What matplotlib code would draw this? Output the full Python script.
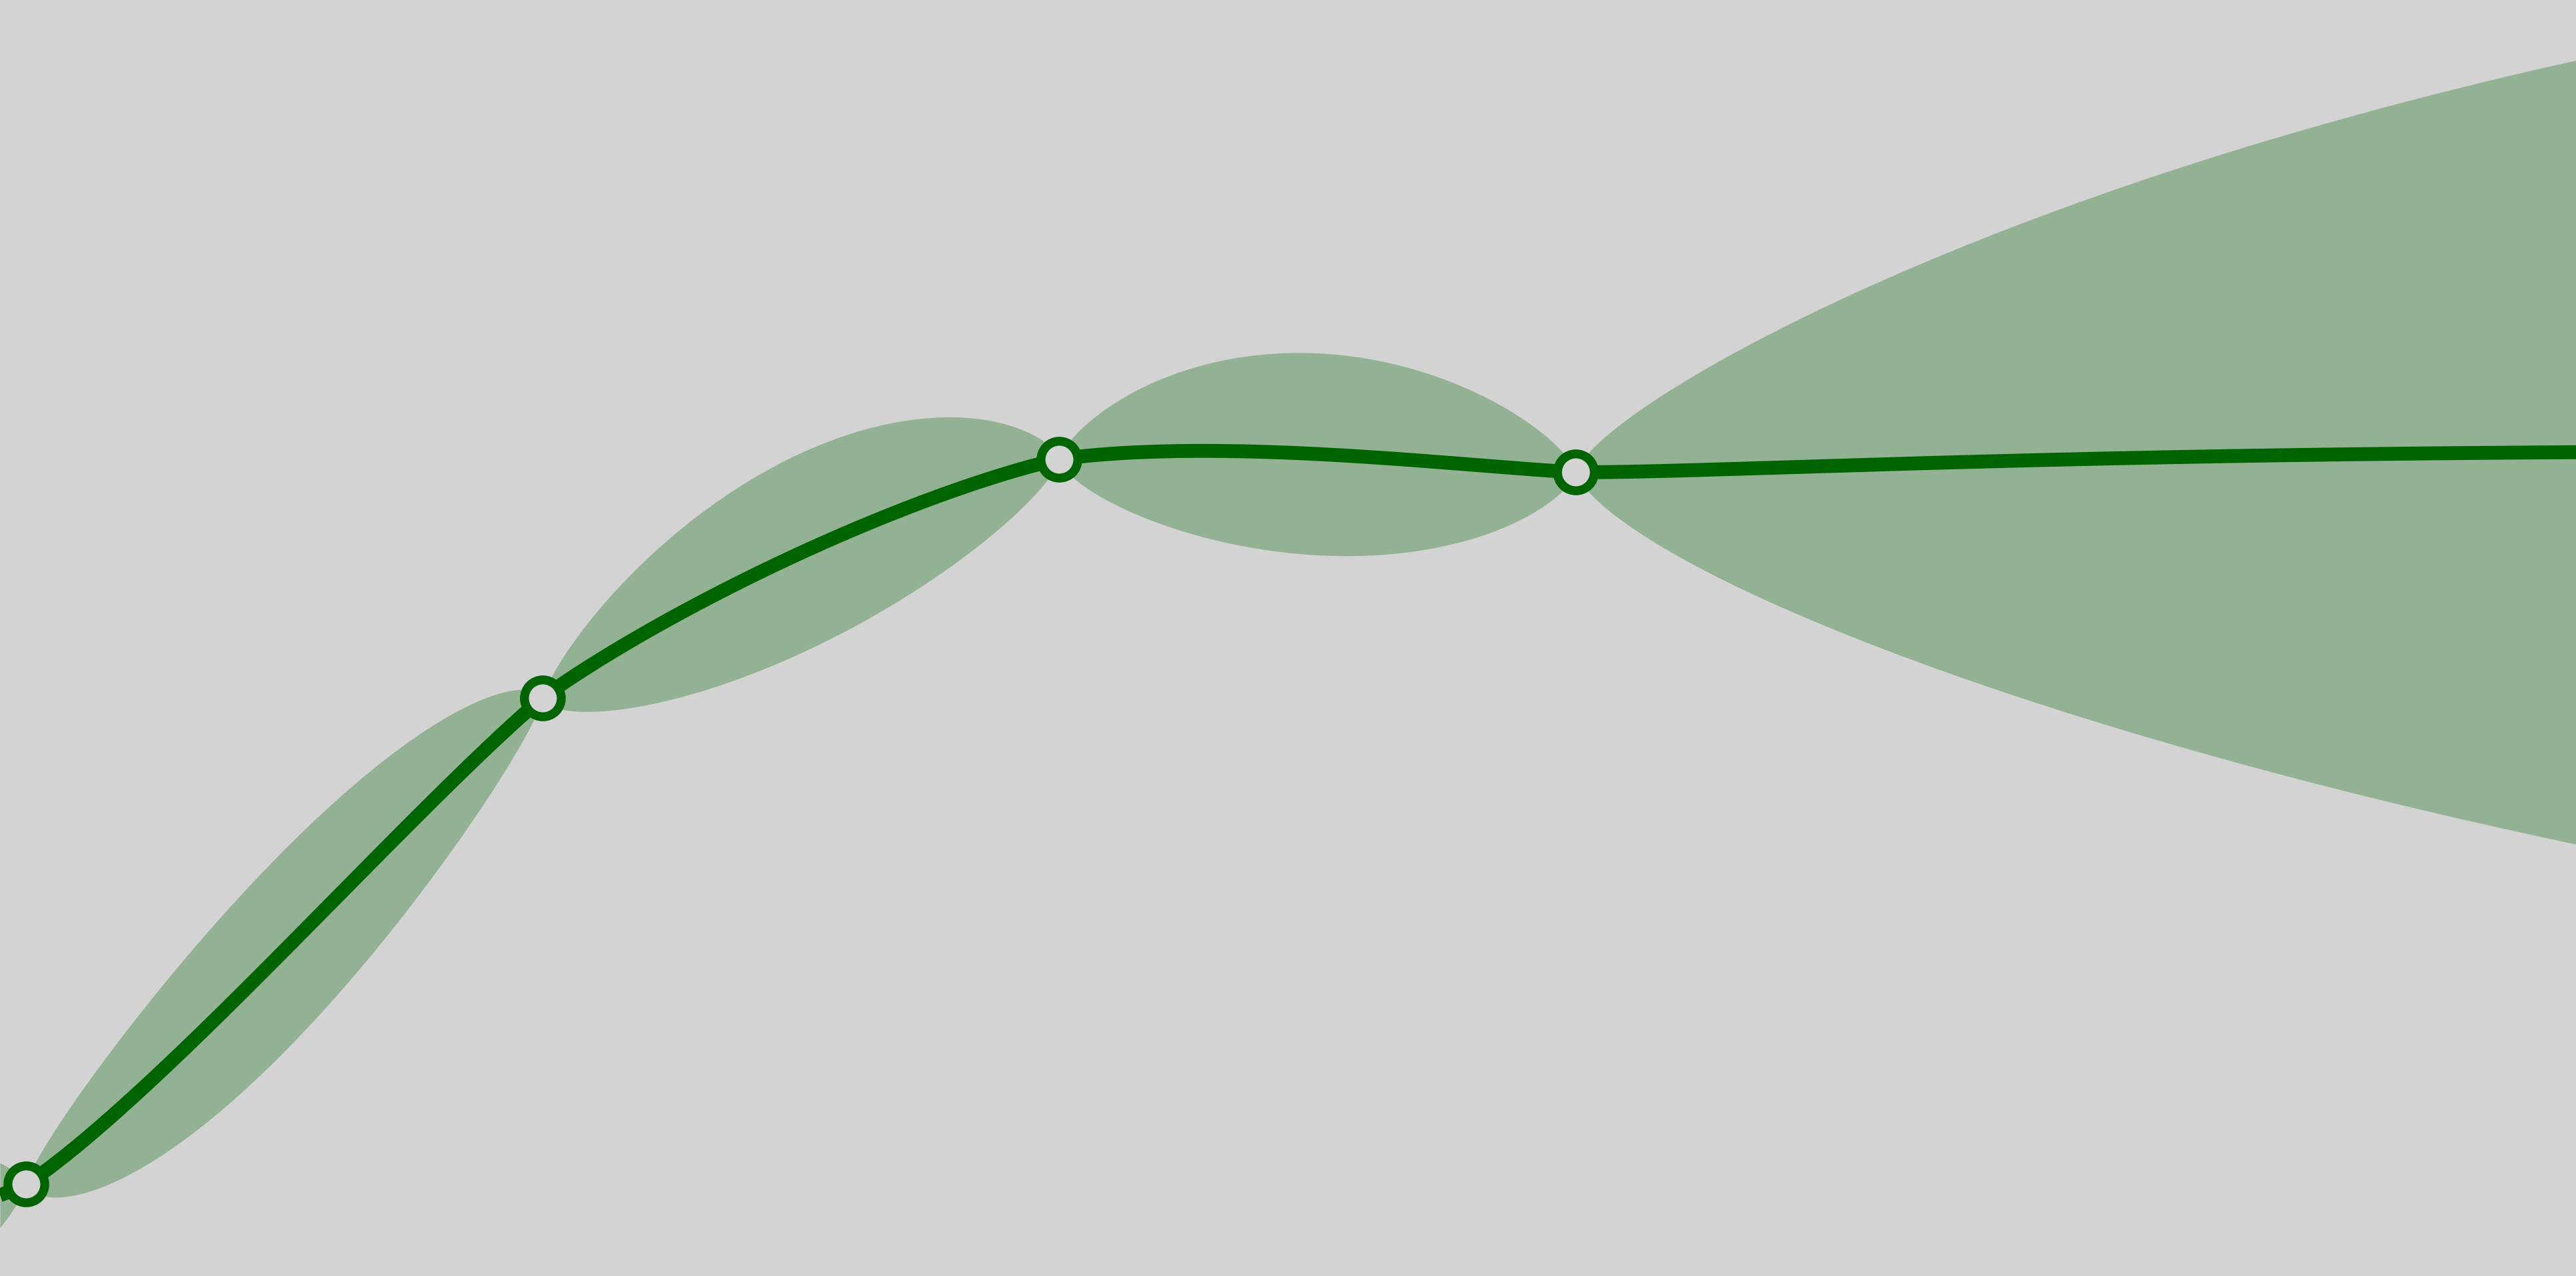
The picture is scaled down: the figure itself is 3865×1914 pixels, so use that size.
import numpy as np
import matplotlib
matplotlib.use("Agg")
import matplotlib.pyplot as plt

# observed samples
x_obs = [0.0, 1.0, 2.0, 3.0]
y_obs = [0.72, 4.53, 6.40, 6.30]

# gaussian process settings (powered exponential kernel)
prior_mean = 6.28
prior_std = 2.356
length_scale = 4.37
power = 1.45
n_std = 2

x_min, x_max = -0.0503, 4.938
y_min, y_max = 0.0, 10.0


def kernel(a, b):
    r = np.abs(np.asarray(a)[:, None] - np.asarray(b)[None, :])
    return prior_std ** 2 * np.exp(-(r / length_scale) ** power)


xo = np.array(x_obs)
yo = np.array(y_obs)
xs = np.linspace(x_min, x_max, 800)

K = kernel(xo, xo) + 1e-9 * np.eye(len(xo))
Ks = kernel(xs, xo)
w = np.linalg.solve(K, Ks.T).T
mu = prior_mean + w @ (yo - prior_mean)
var = prior_std ** 2 - np.sum(w * Ks, axis=1)
sd = np.sqrt(np.clip(var, 0, None))

fig = plt.figure(figsize=(38.66, 19.14), dpi=100, facecolor="lightgray")
ax = fig.add_axes([0, 0, 1, 1], facecolor="lightgray")

ax.fill_between(xs, mu - n_std * sd, mu + n_std * sd, color="darkgreen", alpha=0.3, lw=0)
ax.plot(xs, mu, color="darkgreen", lw=15, solid_capstyle="butt")
ax.plot(xo, yo, "o", ms=39.8, mew=9.6, mec="darkgreen", mfc="lightgray")

ax.set_xlim(x_min, x_max)
ax.set_ylim(y_min, y_max)
ax.axis("off")

fig.savefig("out.png", dpi=100, facecolor="lightgray")
